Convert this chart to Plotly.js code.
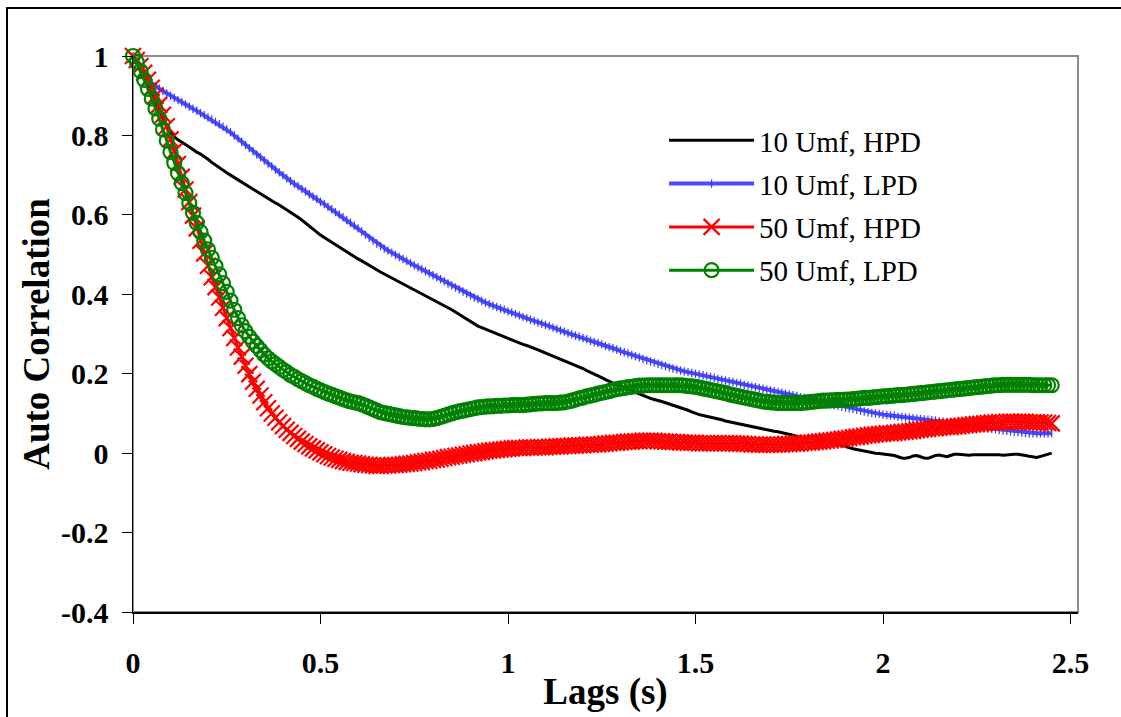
<!DOCTYPE html>
<html>
<head>
<meta charset="utf-8">
<script src="https://cdn.plot.ly/plotly-3.0.1.min.js"></script>
<style>
  html, body { margin: 0; padding: 0; background: #fff; }
  #wrap { position: relative; width: 1121px; height: 717px; overflow: hidden; }
  #chart { position: absolute; left: 0; top: 0; width: 1121px; height: 717px; }
  #frame { position: absolute; left: 6px; top: 7px; width: 1300px; height: 900px;
           border-top: 2px solid #000; border-left: 2px solid #000; pointer-events: none; }
</style>
</head>
<body>
<div id="wrap"><div id="chart"></div><div id="frame"></div></div>
<script>
// Sample grid of lags (s), 0.00 ... 2.45 in 0.01 s steps
const lagCount = 246;
const lagStep = 0.01;
const lags = Array.from({length: lagCount}, (_, i) => +(i * lagStep).toFixed(2));

const seriesNames = ["10 Umf, HPD", "10 Umf, LPD", "50 Umf, HPD", "50 Umf, LPD"];

const umf10HPD = [
1.000,0.982,0.962,0.942,0.922,0.902,0.881,0.860,0.840,0.823,
0.809,0.797,0.789,0.782,0.777,0.771,0.764,0.758,0.753,0.747,
0.740,0.732,0.725,0.719,0.712,0.706,0.700,0.694,0.688,0.682,
0.677,0.671,0.665,0.658,0.652,0.647,0.641,0.635,0.630,0.625,
0.619,0.613,0.608,0.601,0.594,0.587,0.579,0.571,0.563,0.556,
0.549,0.543,0.537,0.531,0.524,0.518,0.511,0.505,0.499,0.494,
0.489,0.484,0.478,0.472,0.466,0.461,0.456,0.451,0.446,0.441,
0.435,0.430,0.425,0.419,0.414,0.409,0.404,0.399,0.394,0.389,
0.384,0.379,0.374,0.370,0.366,0.361,0.355,0.349,0.343,0.337,
0.331,0.326,0.320,0.316,0.312,0.308,0.304,0.300,0.297,0.293,
0.289,0.285,0.281,0.277,0.274,0.271,0.268,0.264,0.260,0.256,
0.253,0.249,0.246,0.242,0.238,0.234,0.230,0.226,0.222,0.218,
0.213,0.208,0.204,0.199,0.195,0.190,0.185,0.180,0.176,0.172,
0.168,0.164,0.160,0.156,0.152,0.148,0.144,0.141,0.138,0.135,
0.133,0.130,0.127,0.124,0.121,0.118,0.115,0.112,0.108,0.104,
0.100,0.097,0.095,0.093,0.091,0.088,0.086,0.084,0.081,0.079,
0.076,0.074,0.072,0.070,0.068,0.066,0.064,0.062,0.060,0.058,
0.057,0.055,0.054,0.052,0.050,0.048,0.045,0.042,0.040,0.039,
0.040,0.041,0.040,0.037,0.034,0.031,0.028,0.025,0.022,0.019,
0.016,0.014,0.011,0.009,0.007,0.005,0.003,0.001,0.000,-0.001,
-0.002,-0.003,-0.004,-0.006,-0.009,-0.012,-0.013,-0.011,-0.007,-0.006,
-0.009,-0.012,-0.013,-0.010,-0.006,-0.005,-0.007,-0.009,-0.006,-0.003,
-0.003,-0.004,-0.005,-0.005,-0.004,-0.004,-0.004,-0.004,-0.003,-0.003,
-0.003,-0.004,-0.005,-0.004,-0.003,-0.003,-0.003,-0.004,-0.006,-0.008,
-0.010,-0.011,-0.008,-0.005,-0.002,0.000
];

const umf10LPD = [
1.000,0.985,0.970,0.956,0.943,0.932,0.924,0.918,0.912,0.906,
0.900,0.895,0.889,0.884,0.878,0.873,0.867,0.862,0.856,0.851,
0.845,0.840,0.834,0.828,0.822,0.815,0.808,0.800,0.792,0.784,
0.776,0.768,0.760,0.752,0.745,0.737,0.729,0.722,0.714,0.707,
0.700,0.692,0.685,0.678,0.672,0.665,0.659,0.652,0.646,0.640,
0.633,0.627,0.620,0.614,0.607,0.601,0.594,0.587,0.580,0.573,
0.566,0.558,0.550,0.542,0.535,0.528,0.521,0.515,0.510,0.505,
0.499,0.494,0.489,0.484,0.478,0.473,0.468,0.463,0.458,0.453,
0.448,0.443,0.438,0.433,0.427,0.422,0.417,0.412,0.407,0.402,
0.397,0.392,0.388,0.383,0.379,0.375,0.371,0.368,0.364,0.361,
0.357,0.354,0.350,0.347,0.343,0.340,0.336,0.333,0.329,0.326,
0.323,0.320,0.316,0.313,0.309,0.306,0.302,0.299,0.296,0.293,
0.290,0.287,0.283,0.280,0.277,0.274,0.270,0.267,0.264,0.261,
0.257,0.254,0.251,0.247,0.244,0.241,0.237,0.234,0.231,0.228,
0.225,0.222,0.219,0.216,0.213,0.211,0.208,0.206,0.204,0.202,
0.200,0.198,0.196,0.194,0.192,0.190,0.187,0.185,0.183,0.181,
0.179,0.177,0.175,0.172,0.170,0.168,0.166,0.164,0.162,0.160,
0.158,0.156,0.154,0.152,0.150,0.148,0.146,0.144,0.141,0.139,
0.137,0.135,0.132,0.130,0.128,0.126,0.123,0.121,0.119,0.117,
0.115,0.113,0.111,0.109,0.107,0.105,0.103,0.101,0.100,0.099,
0.097,0.096,0.095,0.094,0.092,0.091,0.090,0.089,0.088,0.087,
0.086,0.085,0.084,0.083,0.082,0.080,0.079,0.077,0.076,0.075,
0.073,0.072,0.070,0.069,0.068,0.066,0.065,0.064,0.062,0.061,
0.060,0.058,0.057,0.056,0.055,0.054,0.053,0.052,0.051,0.050,
0.050,0.050,0.050,0.050,0.050,0.050
];

const umf50HPD = [
1.000,0.990,0.975,0.958,0.940,0.920,0.900,0.877,0.852,0.823,
0.790,0.760,0.728,0.696,0.664,0.632,0.598,0.566,0.535,0.503,
0.472,0.443,0.418,0.392,0.366,0.340,0.315,0.290,0.266,0.243,
0.220,0.199,0.180,0.162,0.145,0.128,0.113,0.100,0.089,0.078,
0.068,0.059,0.051,0.043,0.036,0.029,0.023,0.017,0.012,0.007,
0.002,-0.003,-0.007,-0.011,-0.014,-0.017,-0.020,-0.022,-0.024,-0.025,
-0.026,-0.028,-0.029,-0.030,-0.031,-0.032,-0.032,-0.031,-0.031,-0.030,
-0.030,-0.029,-0.028,-0.027,-0.026,-0.025,-0.023,-0.022,-0.020,-0.019,
-0.017,-0.016,-0.014,-0.012,-0.010,-0.009,-0.007,-0.006,-0.004,-0.003,
-0.001,0.000,0.002,0.003,0.005,0.006,0.007,0.008,0.009,0.010,
0.011,0.012,0.013,0.013,0.013,0.014,0.014,0.014,0.015,0.015,
0.015,0.016,0.016,0.017,0.017,0.018,0.018,0.019,0.019,0.020,
0.020,0.021,0.021,0.022,0.022,0.023,0.024,0.025,0.026,0.026,
0.027,0.028,0.029,0.029,0.030,0.030,0.031,0.031,0.031,0.031,
0.030,0.030,0.029,0.029,0.028,0.028,0.027,0.027,0.026,0.026,
0.026,0.025,0.025,0.025,0.025,0.025,0.025,0.025,0.025,0.025,
0.025,0.024,0.024,0.023,0.023,0.022,0.022,0.021,0.021,0.021,
0.021,0.021,0.022,0.022,0.023,0.023,0.024,0.024,0.025,0.026,
0.027,0.027,0.028,0.029,0.030,0.031,0.032,0.033,0.034,0.036,
0.037,0.038,0.040,0.041,0.042,0.044,0.045,0.046,0.047,0.048,
0.049,0.050,0.050,0.051,0.052,0.053,0.054,0.055,0.056,0.058,
0.059,0.060,0.061,0.063,0.063,0.064,0.065,0.066,0.066,0.067,
0.068,0.069,0.070,0.071,0.072,0.073,0.074,0.075,0.076,0.077,
0.077,0.078,0.078,0.079,0.079,0.079,0.079,0.079,0.079,0.078,
0.078,0.078,0.077,0.077,0.076,0.075
];

const umf50LPD = [
1.000,0.985,0.962,0.940,0.917,0.893,0.868,0.842,0.815,0.787,
0.758,0.731,0.705,0.680,0.655,0.630,0.605,0.580,0.557,0.535,
0.513,0.492,0.471,0.450,0.428,0.406,0.384,0.361,0.340,0.322,
0.307,0.293,0.281,0.270,0.259,0.248,0.239,0.231,0.224,0.217,
0.210,0.204,0.197,0.192,0.186,0.181,0.176,0.171,0.167,0.162,
0.158,0.154,0.150,0.147,0.143,0.140,0.136,0.133,0.130,0.128,
0.126,0.123,0.119,0.115,0.111,0.107,0.103,0.101,0.099,0.097,
0.095,0.093,0.091,0.090,0.089,0.088,0.087,0.086,0.085,0.085,
0.086,0.088,0.091,0.094,0.097,0.100,0.103,0.105,0.107,0.109,
0.111,0.113,0.115,0.116,0.117,0.118,0.118,0.119,0.119,0.120,
0.120,0.121,0.121,0.121,0.121,0.122,0.123,0.124,0.125,0.125,
0.126,0.126,0.126,0.126,0.127,0.128,0.130,0.132,0.135,0.138,
0.140,0.143,0.145,0.147,0.150,0.152,0.154,0.156,0.159,0.161,
0.163,0.164,0.166,0.167,0.169,0.170,0.170,0.171,0.171,0.171,
0.171,0.171,0.171,0.171,0.171,0.171,0.171,0.170,0.169,0.168,
0.167,0.165,0.163,0.161,0.159,0.157,0.155,0.153,0.151,0.148,
0.146,0.144,0.142,0.140,0.138,0.136,0.134,0.132,0.130,0.129,
0.128,0.127,0.126,0.126,0.126,0.126,0.126,0.126,0.126,0.127,
0.128,0.129,0.130,0.131,0.132,0.132,0.133,0.133,0.134,0.134,
0.135,0.135,0.136,0.137,0.138,0.139,0.139,0.140,0.141,0.142,
0.143,0.143,0.144,0.145,0.146,0.146,0.147,0.148,0.149,0.150,
0.151,0.152,0.153,0.154,0.155,0.156,0.157,0.158,0.159,0.160,
0.161,0.162,0.163,0.164,0.165,0.166,0.167,0.168,0.169,0.170,
0.171,0.171,0.172,0.172,0.172,0.172,0.172,0.172,0.172,0.172,
0.171,0.171,0.171,0.171,0.171,0.171
];

const xTickVals = [0, 0.5, 1, 1.5, 2, 2.5];
const xTickText = ["0", "0.5", "1", "1.5", "2", "2.5"];
const yTickVals = [-0.4, -0.2, 0, 0.2, 0.4, 0.6, 0.8, 1];
const yTickText = ["-0.4", "-0.2", "0", "0.2", "0.4", "0.6", "0.8", "1"];

const serif = '"Liberation Serif", "Times New Roman", serif';

const traces = [
  { x: lags, y: umf10HPD, name: seriesNames[0], legendgroup: "g1", type: "scatter", mode: "lines",
    line: { color: "#000000", width: 3 }, cliponaxis: false },
  { x: lags, y: umf10LPD, name: seriesNames[1], legendgroup: "g2", type: "scatter", mode: "lines+markers",
    line: { color: "#4a4aff", width: 4 },
    marker: { symbol: "line-ns-open", size: 6, color: "#3a3af0", line: { color: "#3a3af0", width: 1.2 } },
    cliponaxis: false },
  { x: lags, y: umf50HPD, name: seriesNames[2], legendgroup: "g3", type: "scatter", mode: "lines+markers",
    line: { color: "#ff0000", width: 3 },
    marker: { symbol: "x-thin-open", size: 16, color: "#ff0000", line: { color: "#ff0000", width: 2.2 } },
    cliponaxis: false },
  { x: lags, y: umf50LPD, name: seriesNames[3], legendgroup: "g4", type: "scatter", mode: "lines+markers",
    line: { color: "#008000", width: 3 },
    marker: { symbol: "circle-open", size: 14, color: "#008000", line: { color: "#008000", width: 2.2 } },
    cliponaxis: false }
];

const layout = {
  width: 1121, height: 717,
  margin: { l: 133, r: 43, t: 56, b: 105, pad: 0 },
  paper_bgcolor: "#ffffff", plot_bgcolor: "#ffffff",
  showlegend: true,
  legend: {
    x: 0.562, y: 0.894, xanchor: "left", yanchor: "top",
    bgcolor: "rgba(0,0,0,0)", borderwidth: 0,
    itemwidth: 85,
    font: { family: serif, size: 29, color: "#000" },
    tracegroupgap: 2.6
  },
  xaxis: {
    range: [0, 2.52], autorange: false,
    tickmode: "array", tickvals: xTickVals, ticktext: xTickText,
    ticks: "outside", ticklen: 10, tickwidth: 1, tickcolor: "#000",
    showline: true, linecolor: "#000", linewidth: 1.5, mirror: false,
    showgrid: false, zeroline: false,
    tickfont: { family: serif, size: 30, color: "#000", weight: "bold" },
    ticklabelstandoff: 13,
    title: { text: "Lags (s)", standoff: 0,
             font: { family: serif, size: 37, color: "#000", weight: "bold" } }
  },
  yaxis: {
    range: [-0.4, 1.0], autorange: false,
    tickmode: "array", tickvals: yTickVals, ticktext: yTickText,
    ticks: "outside", ticklen: 10, tickwidth: 1, tickcolor: "#000",
    showline: true, linecolor: "#000", linewidth: 1.5, mirror: false,
    showgrid: false, zeroline: false,
    tickfont: { family: serif, size: 30, color: "#000", weight: "bold" },
    ticklabelstandoff: 7,
    title: { text: "Auto Correlation", standoff: 0,
             font: { family: serif, size: 37, color: "#000", weight: "bold" } }
  },
  shapes: [
    { type: "rect", xref: "paper", yref: "paper", x0: 0, x1: 1, y0: 0, y1: 1,
      line: { color: "#8c8c8c", width: 2 }, fillcolor: "rgba(0,0,0,0)", layer: "below" }
  ]
};

Plotly.newPlot("chart", traces, layout, { displayModeBar: false, staticPlot: true });
</script>
</body>
</html>
